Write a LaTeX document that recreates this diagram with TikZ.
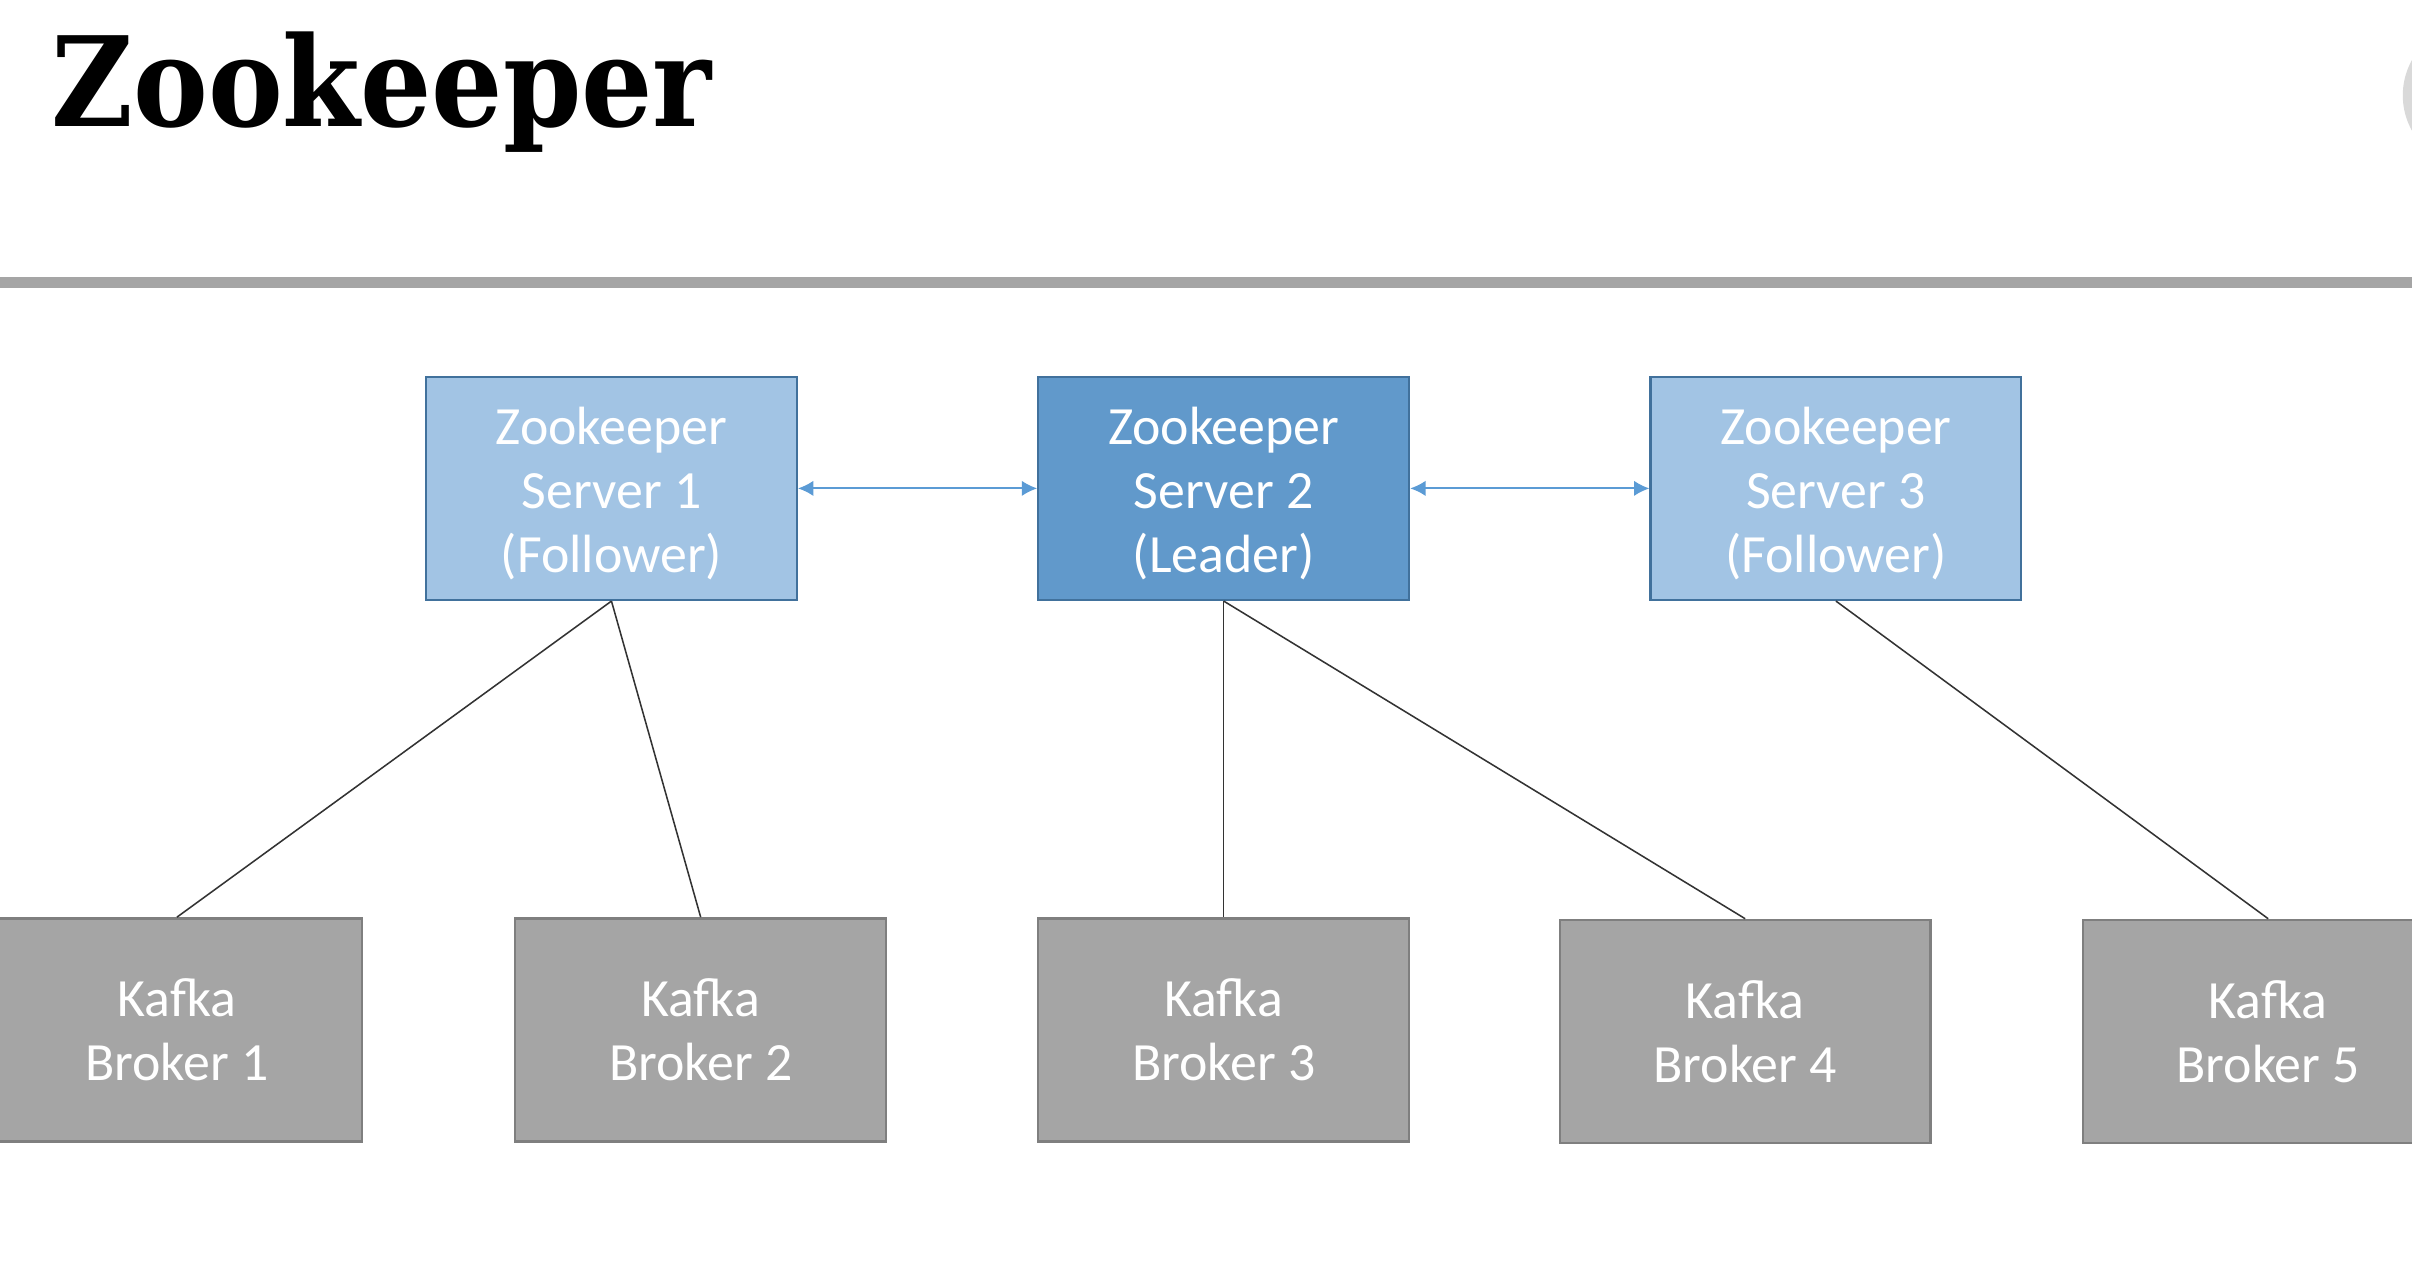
\documentclass[tikz,border=0pt]{standalone}
\usepackage{fontspec}
\setmainfont{Carlito}
\newfontfamily\titlefont{DejaVu Serif Condensed}
\usetikzlibrary{arrows.meta}

\definecolor{zklight}{HTML}{A2C4E4}
\definecolor{zkdark}{HTML}{6199CB}
\definecolor{zkborder}{HTML}{41719C}
\definecolor{kbfill}{HTML}{A5A5A5}
\definecolor{kbborder}{HTML}{7F7F7F}
\definecolor{arrowblue}{HTML}{5B9BD5}

\newcommand{\zkstrut}{\rule{0pt}{15.5pt}}

\begin{document}
\begin{tikzpicture}[x=0.5pt,y=-0.5pt,>={Latex[length=5pt,width=5pt]},
    box node/.style={rectangle,draw,line width=0.75pt,minimum width=120.5pt,minimum height=72.5pt,
        inner sep=0pt,align=center,text=white,font=\fontsize{17.5pt}{20.75pt}\selectfont},
    zk node/.style={box node,fill=zklight,draw=zkborder},
    leader node/.style={zk node,fill=zkdark},
    broker node/.style={box node,fill=kbfill,draw=kbborder}]

            \useasboundingbox (0,0) rectangle (1568,823);
            \fill[white] (0,0) rectangle (1568,823);
            \fill[gray!30] (1609,62) circle [radius=23.5pt];

            \node[anchor=base west,inner sep=0pt,font=\titlefont\bfseries\fontsize{40.5pt}{40.5pt}\selectfont] (title) at (33,82) {Zookeeper};
            \fill[kbfill] (0,180) rectangle (1568,187);

            \node[zk node]  (zk1) at (397.5,317.5) {\zkstrut Zookeeper\\Server 1\\(Follower)};
            \node[leader node]  (zk2) at (795.5,317.5) {\zkstrut Zookeeper\\Server 2\\(Leader)};
            \node[zk node]  (zk3) at (1193.5,317.5) {\zkstrut Zookeeper\\Server 3\\(Follower)};

            \node[broker node]  (kb1) at (115,669.5) {Kafka\\Broker 1};
            \node[broker node]  (kb2) at (455.5,669.5) {Kafka\\Broker 2};
            \node[broker node]  (kb3) at (795.5,669.5) {Kafka\\Broker 3};
            \node[broker node]  (kb4) at (1134.5,670.5) {Kafka\\Broker 4};
            \node[broker node]  (kb5) at (1474.5,670.5) {Kafka\\Broker 5};

            \draw[<->,arrowblue,line width=0.6pt] (zk1) to (zk2);
            \draw[<->,arrowblue,line width=0.6pt] (zk2) to (zk3);

            \draw[-,black!80,line width=0.5pt] (zk1.south) to (kb1.north);
            \draw[-,black!80,line width=0.5pt] (zk1.south) to (kb2.north);
            \draw[-,black!80,line width=0.5pt] (zk2.south) to (kb3.north);
            \draw[-,black!80,line width=0.5pt] (zk2.south) to (kb4.north);
            \draw[-,black!80,line width=0.5pt] (zk3.south) to (kb5.north);

        \end{tikzpicture}
\end{document}
